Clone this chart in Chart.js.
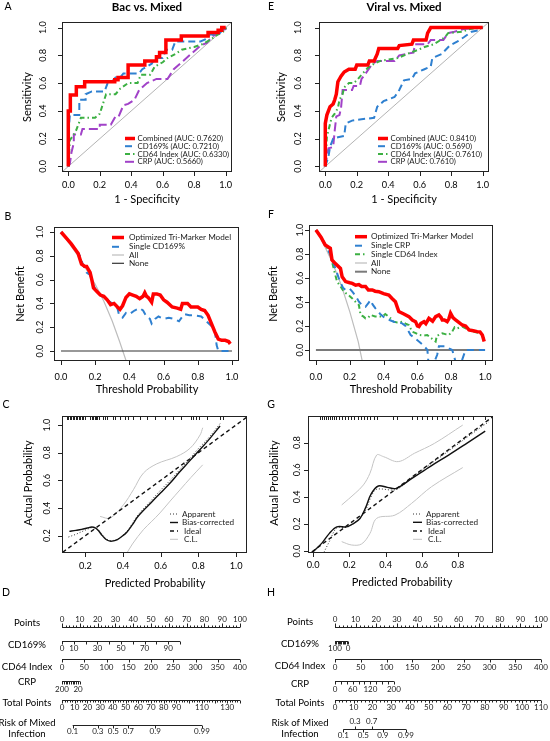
<!DOCTYPE html>
<html>
<head>
<meta charset="utf-8">
<script src="https://cdn.jsdelivr.net/npm/chart.js@4.4.1/dist/chart.umd.min.js"></script>
<style>
html, body { margin:0; padding:0; background:#fff; }
#wrap { position:relative; width:550px; height:741px; overflow:hidden; background:#fff; }
#wrap canvas { position:absolute; left:0; top:0; }
</style>
</head>
<body>
<div id="wrap"></div>
<script>
// ============================================================
//  DATA
// ============================================================
var rocTicks = [0, 0.2, 0.4, 0.6, 0.8, 1.0];
var diagX = [-0.1, 1.1], diagY = [-0.1, 1.1];

// A: ROC, Bac vs. Mixed
var rocA_combX = [0,0,0.013,0.013,0.051,0.051,0.104,0.104,0.295,0.295,0.316,0.316,0.38,0.38,0.486,0.486,0.56,0.56,0.58,0.58,0.62,0.62,0.718,0.718,0.888,0.888,0.952,0.952,0.975,0.975,1];
var rocA_combY = [0,0.40,0.40,0.514,0.514,0.574,0.574,0.61,0.61,0.625,0.625,0.64,0.64,0.73,0.73,0.76,0.76,0.79,0.79,0.82,0.82,0.91,0.91,0.94,0.94,0.965,0.965,0.98,0.98,1,1];
var rocA_cd169X = [0,0.005,0.01,0.07,0.07,0.11,0.11,0.15,0.23,0.25,0.27,0.3,0.33,0.35,0.45,0.47,0.5,0.53,0.55,0.6,0.62,0.66,0.68,0.84,0.88,0.9,0.95,0.97,1];
var rocA_cd169Y = [0,0.3,0.37,0.37,0.48,0.48,0.52,0.54,0.54,0.6,0.6,0.64,0.64,0.67,0.67,0.7,0.72,0.74,0.78,0.78,0.84,0.84,0.9,0.9,0.92,0.95,0.95,0.97,1];
var rocA_cd64X = [0,0.01,0.03,0.05,0.08,0.17,0.2,0.22,0.24,0.3,0.33,0.38,0.44,0.46,0.52,0.55,0.6,0.63,0.68,0.72,0.8,0.85,0.9,0.95,1,1];
var rocA_cd64Y = [0,0.19,0.22,0.26,0.35,0.35,0.38,0.45,0.52,0.52,0.56,0.6,0.6,0.66,0.66,0.72,0.75,0.78,0.81,0.84,0.86,0.88,0.91,0.95,0.98,1];
var rocA_crpX = [0,0.01,0.02,0.035,0.035,0.08,0.09,0.2,0.2,0.27,0.3,0.32,0.35,0.38,0.42,0.45,0.5,0.56,0.63,0.67,0.73,0.77,0.84,0.88,0.92,0.96,1,1];
var rocA_crpY = [0,0.02,0.1,0.17,0.23,0.23,0.27,0.27,0.3,0.3,0.36,0.36,0.44,0.45,0.48,0.55,0.6,0.63,0.63,0.7,0.76,0.8,0.87,0.89,0.94,0.96,0.99,1];
var rocA_labels = ['Combined (AUC: 0.7620)', 'CD169% (AUC: 0.7210)', 'CD64 Index (AUC: 0.6330)', 'CRP (AUC: 0.5660)'];

// E: ROC, Viral vs. Mixed
var rocE_combX = [0,0,0.01,0.03,0.05,0.06,0.07,0.08,0.1,0.12,0.15,0.19,0.2,0.27,0.28,0.31,0.33,0.34,0.46,0.47,0.55,0.56,0.64,0.65,0.67,1];
var rocE_combY = [0,0.31,0.37,0.43,0.45,0.48,0.52,0.61,0.65,0.68,0.70,0.70,0.73,0.73,0.76,0.76,0.81,0.85,0.85,0.87,0.88,0.91,0.91,0.96,1,1];
var rocE_cd169X = [0,0.02,0.03,0.05,0.08,0.12,0.13,0.17,0.23,0.31,0.33,0.37,0.44,0.47,0.5,0.55,0.57,0.63,0.67,0.68,0.74,0.79,0.84,0.88,0.93,0.97,1];
var rocE_cd169Y = [0,0.07,0.14,0.2,0.21,0.22,0.31,0.33,0.34,0.35,0.43,0.47,0.5,0.55,0.62,0.63,0.67,0.7,0.72,0.78,0.81,0.87,0.9,0.93,0.97,0.98,1];
var rocE_cd64X = [0,0.01,0.02,0.04,0.06,0.08,0.09,0.11,0.12,0.15,0.18,0.2,0.23,0.27,0.31,0.35,0.46,0.52,0.59,0.63,0.69,0.76,0.78,0.87,0.92,1];
var rocE_cd64Y = [0,0.21,0.26,0.35,0.38,0.42,0.48,0.52,0.57,0.6,0.6,0.62,0.66,0.71,0.74,0.76,0.78,0.81,0.84,0.86,0.88,0.93,0.96,0.97,0.99,1];
var rocE_crpX = [0,0.01,0.02,0.05,0.06,0.07,0.09,0.1,0.11,0.17,0.18,0.22,0.23,0.25,0.3,0.33,0.44,0.47,0.56,0.57,0.65,0.67,0.75,0.78,0.82,0.88,1];
var rocE_crpY = [0,0.07,0.13,0.14,0.26,0.36,0.37,0.42,0.55,0.55,0.58,0.58,0.63,0.66,0.74,0.76,0.76,0.8,0.82,0.88,0.88,0.91,0.91,0.96,0.97,0.99,1];
var rocE_labels = ['Combined (AUC: 0.8410)', 'CD169% (AUC: 0.5690)', 'CD64 Index (AUC: 0.7610)', 'CRP (AUC: 0.7610)'];

// B: decision curve, Bac vs. Mixed
var dcaB_modelX = [0,0.03,0.06,0.09,0.1,0.12,0.14,0.15,0.17,0.18,0.19,0.21,0.23,0.25,0.27,0.29,0.31,0.33,0.345,0.36,0.38,0.4,0.42,0.44,0.46,0.47,0.48,0.49,0.5,0.51,0.52,0.53,0.54,0.56,0.58,0.6,0.62,0.65,0.68,0.7,0.71,0.74,0.76,0.78,0.8,0.82,0.84,0.86,0.88,0.9,0.92,0.94,0.96,0.98,0.99];
var dcaB_modelY = [1.0,0.95,0.9,0.84,0.82,0.73,0.71,0.71,0.66,0.6,0.53,0.5,0.47,0.46,0.43,0.39,0.4,0.37,0.35,0.38,0.45,0.48,0.47,0.46,0.44,0.45,0.46,0.49,0.46,0.45,0.43,0.41,0.48,0.48,0.47,0.43,0.41,0.37,0.36,0.35,0.4,0.4,0.37,0.37,0.37,0.35,0.34,0.3,0.23,0.16,0.1,0.09,0.09,0.08,0.06];
var dcaB_cd169X = [0,0.03,0.06,0.09,0.11,0.13,0.15,0.17,0.19,0.21,0.24,0.27,0.29,0.31,0.33,0.34,0.36,0.38,0.4,0.43,0.46,0.48,0.5,0.52,0.53,0.55,0.57,0.6,0.63,0.66,0.69,0.72,0.75,0.78,0.82,0.85,0.88,0.9,0.91,0.92,0.95,0.99];
var dcaB_cd169Y = [1,0.95,0.9,0.84,0.8,0.72,0.66,0.64,0.55,0.5,0.46,0.43,0.41,0.39,0.36,0.3,0.28,0.32,0.31,0.34,0.36,0.34,0.29,0.27,0.23,0.27,0.29,0.27,0.28,0.27,0.25,0.31,0.30,0.30,0.29,0.25,0.21,0.17,0.05,0.0,0.0,0.0];
var dcaB_allX = [0,0.1,0.2,0.25,0.3,0.34,0.385];
var dcaB_allY = [1,0.8,0.56,0.42,0.25,0.09,-0.1];
var dcaB_labels = ['Optimized Tri-Marker Model', 'Single CD169%', 'All', 'None'];

// F: decision curve, Viral vs. Mixed
var dcaF_modelX = [0,0.03,0.055,0.085,0.095,0.115,0.145,0.155,0.175,0.2,0.215,0.235,0.254,0.27,0.293,0.31,0.333,0.35,0.372,0.4,0.431,0.45,0.47,0.48,0.49,0.52,0.55,0.57,0.589,0.6,0.609,0.62,0.639,0.65,0.668,0.69,0.708,0.727,0.74,0.747,0.76,0.776,0.786,0.796,0.81,0.826,0.845,0.865,0.885,0.905,0.93,0.954,0.97,0.984,0.995];
var dcaF_modelY = [1,0.94,0.875,0.847,0.75,0.72,0.68,0.61,0.57,0.56,0.555,0.54,0.545,0.53,0.53,0.5,0.5,0.49,0.486,0.47,0.458,0.43,0.403,0.36,0.32,0.3,0.278,0.25,0.236,0.2,0.195,0.22,0.236,0.22,0.264,0.24,0.278,0.292,0.27,0.25,0.25,0.236,0.26,0.306,0.27,0.25,0.23,0.208,0.2,0.167,0.16,0.153,0.15,0.125,0.07];
var dcaF_crpX = [0,0.03,0.06,0.09,0.115,0.14,0.16,0.175,0.2,0.215,0.235,0.254,0.275,0.293,0.31,0.322,0.335,0.352,0.38,0.41,0.435,0.46,0.485,0.51,0.53,0.56,0.585,0.609,0.635,0.659,0.665,0.7,0.717,0.727,0.75,0.767,0.79,0.806,0.826,0.86,0.885,0.92,0.96,1.0];
var dcaF_crpY = [1,0.94,0.87,0.78,0.68,0.58,0.52,0.5,0.51,0.486,0.45,0.403,0.37,0.36,0.39,0.416,0.38,0.347,0.3,0.264,0.25,0.236,0.23,0.222,0.2,0.125,0.1,0.07,0.04,0.0,-0.1,-0.1,-0.04,0.03,0.03,0.03,0.01,0.0,-0.1,-0.1,0.0,0.0,0.0,0.0];
var dcaF_cd64X = [0,0.03,0.06,0.085,0.095,0.11,0.125,0.145,0.165,0.19,0.215,0.235,0.254,0.264,0.28,0.293,0.31,0.322,0.35,0.392,0.41,0.43,0.445,0.46,0.48,0.51,0.53,0.549,0.569,0.59,0.609,0.635,0.658,0.68,0.708,0.715,0.727,0.747,0.77,0.786,0.806,0.82,0.836,0.865,0.885,0.905,0.94,0.97,0.984,0.995];
var dcaF_cd64Y = [1,0.94,0.87,0.8,0.736,0.65,0.57,0.53,0.486,0.46,0.43,0.4,0.375,0.292,0.28,0.264,0.27,0.292,0.28,0.278,0.3,0.278,0.26,0.236,0.23,0.236,0.22,0.208,0.153,0.14,0.125,0.12,0.125,0.1,0.07,0.12,0.125,0.139,0.13,0.125,0.153,0.19,0.18,0.194,0.18,0.167,0.15,0.14,0.125,0.083];
var dcaF_allX = [0,0.05,0.1,0.15,0.2,0.25,0.275];
var dcaF_allY = [1,0.87,0.72,0.54,0.32,0.07,-0.1];
var dcaF_labels = ['Optimized Tri-Marker Model', 'Single CRP', 'Single CD64 Index', 'All', 'None'];
var noneX = [0, 1], noneY = [0, 0];

// C: calibration, Bac vs. Mixed
var calTicksC = [0.2, 0.4, 0.6, 0.8, 1.0];
var calC_bcX = [0.115,0.15,0.18,0.21,0.234,0.255,0.27,0.29,0.31,0.331,0.35,0.37,0.39,0.42,0.45,0.48,0.55,0.6,0.65,0.7,0.75,0.8,0.85,0.915];
var calC_bcY = [0.231,0.238,0.245,0.255,0.263,0.255,0.235,0.2,0.172,0.16,0.162,0.172,0.19,0.225,0.28,0.34,0.44,0.51,0.58,0.66,0.735,0.81,0.885,0.993];
var calC_appX = [0.11,0.15,0.2,0.24,0.27,0.3,0.33,0.37,0.42,0.48,0.55,0.6,0.65,0.7,0.75,0.8,0.85,0.915];
var calC_appY = [0.19,0.21,0.24,0.258,0.24,0.19,0.165,0.175,0.23,0.35,0.455,0.53,0.6,0.675,0.75,0.83,0.9,1.01];
var calC_upX = [0.278,0.331,0.402,0.455,0.508,0.579,0.685,0.756,0.809,0.823];
var calC_upY = [0.339,0.327,0.423,0.532,0.652,0.719,0.772,0.832,0.928,0.98];
var calC_loX = [0.41,0.45,0.508,0.55,0.596,0.65,0.703,0.76,0.823];
var calC_loY = [0.05,0.14,0.243,0.3,0.364,0.45,0.532,0.62,0.712];
var rugC = [0.102,0.110,0.118,0.126,0.134,0.142,0.150,0.158,0.166,0.174,0.182,0.190,0.198,0.225,0.233,0.241,0.249,0.257,0.264,0.272,0.294,0.304,0.315,0.347,0.357,0.384,0.410,0.426,0.453,0.490,0.527,0.569,0.622,0.664,0.708,0.760,0.772,0.788,0.804,0.846,0.915,0.931];

// G: calibration, Viral vs. Mixed
var calTicksG = [0.0, 0.2, 0.4, 0.6, 0.8];
var calG_bcX = [0,0.05,0.09,0.131,0.186,0.22,0.259,0.29,0.32,0.36,0.41,0.46,0.55,0.65,0.75,0.85,0.95];
var calG_bcY = [-0.005,0.06,0.13,0.178,0.178,0.2,0.24,0.32,0.42,0.48,0.47,0.463,0.54,0.627,0.71,0.797,0.885];
var calG_appX = [0.06,0.09,0.131,0.186,0.22,0.259,0.29,0.32,0.35,0.46,0.55,0.65,0.75,0.85,0.97];
var calG_appY = [-0.01,0.07,0.17,0.175,0.2,0.245,0.3,0.4,0.455,0.455,0.55,0.645,0.74,0.84,0.955];
var calG_upX = [0.158,0.232,0.278,0.314,0.351,0.388,0.47,0.56,0.67,0.826];
var calG_upY = [0.34,0.426,0.488,0.574,0.709,0.697,0.66,0.722,0.795,0.93];
var calG_loX = [0.158,0.213,0.268,0.314,0.351,0.452,0.544,0.654,0.826];
var calG_loY = [0.069,0.044,0.052,0.13,0.241,0.265,0.352,0.475,0.616];
var rugG = [0.039,0.050,0.061,0.072,0.083,0.094,0.105,0.116,0.127,0.143,0.160,0.177,0.193,0.21,0.226,0.248,0.265,0.281,0.298,0.314,0.337,0.353,0.441,0.463,0.546,0.574,0.601,0.629,0.657,0.684,0.712,0.739,0.767,0.8,0.828,0.883,0.949];
var idealX = [-0.1, 1.1], idealY = [-0.1, 1.1];
var calLabels = ['Apparent', 'Bias-corrected', ' Ideal', ' C.L.'];

// D / H: nomograms (values on each scale and the points they map to)
var nomPoints = [0,10,20,30,40,50,60,70,80,90,100];
var riskProbs = [0.1,0.3,0.5,0.7,0.9,0.99];
var nomD_cd169Range = [0,100],  nomD_cd169Pts = [0,66.3], nomD_cd169Lab = [0,10,30,50,70,90];
var nomD_cd64Range  = [0,400],  nomD_cd64Pts  = [0,100],  nomD_cd64Lab  = [0,50,100,150,200,250,300,350,400];
var nomD_crpRange   = [200,0],  nomD_crpPts   = [0,10],   nomD_crpLab   = [200,20];
var nomD_totalRange = [0,140],  nomD_totalPts = [0,100],  nomD_totalLab = [0,10,20,30,40,50,60,70,80,90,110,130];
var nomD_riskTotal  = [8.4,28.1,40.4,52.2,73.3,110.1];
var nomH_cd169Range = [100,0],  nomH_cd169Pts = [0,6.3],  nomH_cd169Lab = [100,0];
var nomH_cd64Range  = [0,400],  nomH_cd64Pts  = [0,100],  nomH_cd64Lab  = [0,50,100,150,200,250,300,350,400];
var nomH_crpRange   = [0,200],  nomH_crpPts   = [0,28.6], nomH_crpLab   = [0,60,120,200];
var nomH_totalRange = [0,110],  nomH_totalPts = [0,100],  nomH_totalLab = [0,10,20,30,40,50,60,70,80,90,100,110];
var nomH_riskTotal  = [4.43,10.7,15.1,19.6,25.5,37.9];
var nomH_riskAbove  = [false,true,false,true,false,false];

// ============================================================
//  HELPERS
// ============================================================
var W = 550, H = 741;
var FONT = 'Lato, "Open Sans", sans-serif';
var RED = '#ff0000', BLUE = '#2f80d0', GREEN = '#3cb043', PURPLE = '#a142c8';
var wrap = document.getElementById('wrap');

function pts(xs, ys) { return xs.map(function(x, i) { return { x: x, y: ys[i] }; }); }
function lin(v, vr, pr) { return pr[0] + (v - vr[0]) * (pr[1] - pr[0]) / (vr[1] - vr[0]); }

function ds(label, xs, ys, color, width, dash, leg, smooth) {
  return { label: label, data: pts(xs, ys), showLine: true, borderColor: color, borderWidth: width,
    borderDash: dash || [], pointRadius: 0, fill: false, clip: 0, leg: leg,
    tension: smooth ? 0.35 : 0, borderJoinStyle: 'miter' };
}

function txt(ctx, s, x, y, size, opt) {
  opt = opt || {};
  ctx.save();
  ctx.font = (opt.bold ? 'bold ' : '') + size + 'px ' + FONT;
  ctx.fillStyle = opt.color || '#000';
  ctx.textAlign = opt.align || 'center';
  ctx.textBaseline = 'middle';
  ctx.translate(x, y);
  if (opt.rot) ctx.rotate(-Math.PI / 2);
  ctx.fillText(s, 0, 0);
  ctx.restore();
}

function frame(c) {
  var a = c.chartArea, ctx = c.ctx;
  ctx.save(); ctx.strokeStyle = '#222'; ctx.lineWidth = 1;
  ctx.strokeRect(a.left + 0.5, a.top + 0.5, a.right - a.left - 1, a.bottom - a.top - 1);
  ctx.restore();
}

function axes(c, xt, yt, xLabY, yLabX) {
  var ctx = c.ctx, a = c.chartArea, sx = c.scales.x, sy = c.scales.y;
  ctx.save(); ctx.strokeStyle = '#222'; ctx.lineWidth = 1; ctx.beginPath();
  xt.forEach(function(v) { var p = Math.round(sx.getPixelForValue(v)) + 0.5; ctx.moveTo(p, a.bottom); ctx.lineTo(p, a.bottom + 4); });
  yt.forEach(function(v) { var p = Math.round(sy.getPixelForValue(v)) + 0.5; ctx.moveTo(a.left, p); ctx.lineTo(a.left - 4, p); });
  ctx.stroke(); ctx.restore();
  xt.forEach(function(v) { txt(ctx, v.toFixed(1), sx.getPixelForValue(v), xLabY, 9.2); });
  yt.forEach(function(v) { txt(ctx, v.toFixed(1), yLabX, sy.getPixelForValue(v), 9.2, { rot: true }); });
}

function legend(c, x1, x2, tx, ys, size) {
  var ctx = c.ctx;
  var items = c.data.datasets.filter(function(d) { return d.leg !== undefined; })
    .sort(function(p, q) { return p.leg - q.leg; });
  items.forEach(function(d, i) {
    ctx.save(); ctx.strokeStyle = d.borderColor; ctx.lineWidth = d.borderWidth; ctx.setLineDash(d.borderDash || []);
    ctx.beginPath(); ctx.moveTo(x1, ys[i]); ctx.lineTo(x2, ys[i]); ctx.stroke(); ctx.restore();
    txt(ctx, d.label, tx, ys[i], size, { align: 'left', color: '#222' });
  });
}

function rug(c, vals) {
  var ctx = c.ctx, a = c.chartArea, sx = c.scales.x;
  ctx.save(); ctx.strokeStyle = '#222'; ctx.lineWidth = 1; ctx.beginPath();
  vals.forEach(function(v) { var p = Math.round(sx.getPixelForValue(v)) + 0.5; ctx.moveTo(p, a.top); ctx.lineTo(p, a.top + 4); });
  ctx.stroke(); ctx.restore();
}

function panel(box, xr, yr, datasets, deco) {
  var cv = document.createElement('canvas');
  cv.width = W; cv.height = H; cv.style.width = W + 'px'; cv.style.height = H + 'px';
  wrap.appendChild(cv);
  return new Chart(cv, {
    type: 'scatter',
    data: { datasets: datasets },
    options: {
      responsive: false, animation: false, events: [], devicePixelRatio: 1,
      layout: { padding: { left: box[0], top: box[1], right: W - box[2], bottom: H - box[3] } },
      plugins: { legend: { display: false }, tooltip: { enabled: false } },
      scales: {
        x: { type: 'linear', display: false, min: xr[0], max: xr[1] },
        y: { type: 'linear', display: false, min: yr[0], max: yr[1] }
      }
    },
    plugins: [{ id: 'deco', afterDraw: function(c) { deco(c); } }]
  });
}

// ============================================================
//  ROC PANELS
// ============================================================
function rocSets(d, labels) {
  return [
    ds(labels[0], d[0], d[1], RED, 3.5, [], 0),
    ds(labels[1], d[2], d[3], BLUE, 2, [7, 4], 1),
    ds(labels[2], d[4], d[5], GREEN, 2, [5, 3, 1.5, 3], 2),
    ds(labels[3], d[6], d[7], PURPLE, 2, [9, 4], 3),
    ds(null, diagX, diagY, '#a0a0a0', 0.8, [])
  ];
}

panel([62, 22, 232, 172], [-0.04, 1.04], [-0.04, 1.04],
  rocSets([rocA_combX, rocA_combY, rocA_cd169X, rocA_cd169Y, rocA_cd64X, rocA_cd64Y, rocA_crpX, rocA_crpY], rocA_labels),
  function(c) {
    frame(c); axes(c, rocTicks, rocTicks, 185, 43);
    txt(c.ctx, 'A', 8, 7, 10.5);
    txt(c.ctx, 'Bac vs. Mixed', 147, 7, 11.5, { bold: true });
    txt(c.ctx, '1 - Specificity', 147, 199, 11);
    txt(c.ctx, 'Sensitivity', 27, 97, 11, { rot: true });
    legend(c, 125, 135, 137.5, [138.5, 146.2, 154, 161.8], 7.8);
  });

panel([319, 22, 489, 172], [-0.04, 1.04], [-0.04, 1.04],
  rocSets([rocE_combX, rocE_combY, rocE_cd169X, rocE_cd169Y, rocE_cd64X, rocE_cd64Y, rocE_crpX, rocE_crpY], rocE_labels),
  function(c) {
    frame(c); axes(c, rocTicks, rocTicks, 185, 298);
    txt(c.ctx, 'E', 271, 7, 10.5);
    txt(c.ctx, 'Viral vs. Mixed', 404, 7, 11.5, { bold: true });
    txt(c.ctx, '1 - Specificity', 404, 199, 11);
    txt(c.ctx, 'Sensitivity', 281, 97, 11, { rot: true });
    legend(c, 378, 388, 390.5, [138.5, 146.2, 154, 161.8], 7.8);
  });

// ============================================================
//  DECISION CURVES
// ============================================================
panel([54, 227, 239, 361], [-0.041, 1.041], [-0.084, 1.042], [
    ds(dcaB_labels[0], dcaB_modelX, dcaB_modelY, RED, 3.5, [], 0),
    ds(dcaB_labels[1], dcaB_cd169X, dcaB_cd169Y, BLUE, 2, [7, 5], 1),
    ds(dcaB_labels[3], noneX, noneY, '#333', 1.2, [], 3),
    ds(dcaB_labels[2], dcaB_allX, dcaB_allY, '#bdbdbd', 1.2, [], 2)
  ],
  function(c) {
    frame(c); axes(c, rocTicks, rocTicks, 377, 40);
    txt(c.ctx, 'B', 8, 217, 10.5);
    txt(c.ctx, 'Threshold Probability', 147, 389, 11);
    txt(c.ctx, 'Net Benefit', 20, 294, 11, { rot: true });
    legend(c, 112, 124, 129, [237.5, 246.8, 255, 263.3], 8.2);
  });

panel([309, 225, 493, 361], [-0.041, 1.047], [-0.092, 1.042], [
    ds(dcaF_labels[0], dcaF_modelX, dcaF_modelY, RED, 3.5, [], 0),
    ds(dcaF_labels[1], dcaF_crpX, dcaF_crpY, BLUE, 2, [7, 5], 1),
    ds(dcaF_labels[2], dcaF_cd64X, dcaF_cd64Y, GREEN, 2, [5, 3, 1.5, 3], 2),
    ds(dcaF_labels[4], noneX, noneY, '#7a7a7a', 2, [], 4),
    ds(dcaF_labels[3], dcaF_allX, dcaF_allY, '#bdbdbd', 1.2, [], 3)
  ],
  function(c) {
    frame(c); axes(c, rocTicks, rocTicks, 377, 300);
    txt(c.ctx, 'F', 271, 215, 10.5);
    txt(c.ctx, 'Threshold Probability', 401, 389, 11);
    txt(c.ctx, 'Net Benefit', 273, 294, 11, { rot: true });
    legend(c, 355, 367, 371, [236.7, 245.7, 254.3, 263, 271.7], 8.2);
  });

// ============================================================
//  CALIBRATION
// ============================================================
function calSets(bcX, bcY, apX, apY, upX, upY, loX, loY) {
  return [
    ds(calLabels[1], bcX, bcY, '#111', 1.4, [], 1, true),
    ds(calLabels[0], apX, apY, '#333', 1, [1, 2], 0, true),
    ds(calLabels[2], idealX, idealY, '#111', 1.4, [4, 3], 2),
    ds(calLabels[3], upX, upY, '#c4c4c4', 1, [], 3, true),
    ds(null, loX, loY, '#c4c4c4', 1, [], undefined, true)
  ];
}

panel([62, 416, 247, 553], [0.076, 1.058], [0.0745, 1.065],
  calSets(calC_bcX, calC_bcY, calC_appX, calC_appY, calC_upX, calC_upY, calC_loX, calC_loY),
  function(c) {
    frame(c); axes(c, calTicksC, calTicksC, 566, 47); rug(c, rugC);
    txt(c.ctx, 'C', 6, 405, 10.5);
    txt(c.ctx, 'Predicted Probability', 155, 583, 11);
    txt(c.ctx, 'Actual Probability', 28, 483, 11, { rot: true });
    legend(c, 170, 178, 182, [514, 522.5, 531, 539.3], 8.2);
  });

panel([308, 416, 493, 553], [-0.028, 0.993], [-0.015, 0.997],
  calSets(calG_bcX, calG_bcY, calG_appX, calG_appY, calG_upX, calG_upY, calG_loX, calG_loY),
  function(c) {
    frame(c); axes(c, calTicksG, calTicksG, 565, 297); rug(c, rugG);
    txt(c.ctx, 'G', 271, 405, 10.5);
    txt(c.ctx, 'Predicted Probability', 402, 582, 11);
    txt(c.ctx, 'Actual Probability', 274, 483, 11, { rot: true });
    legend(c, 413, 422, 426, [514, 522.3, 531, 539.3], 8.2);
  });

// ============================================================
//  NOMOGRAMS
// ============================================================
function axisRow(c, y, ticks, labels) {
  var ctx = c.ctx, sx = c.scales.x;
  var px = ticks.map(function(t) { return sx.getPixelForValue(t.p); });
  var lo = Math.min.apply(null, px), hi = Math.max.apply(null, px);
  ctx.save(); ctx.strokeStyle = '#222'; ctx.lineWidth = 1; ctx.beginPath();
  ctx.moveTo(lo, y + 0.5); ctx.lineTo(hi, y + 0.5);
  ticks.forEach(function(t, i) { var p = Math.round(px[i]) + 0.5; ctx.moveTo(p, y + 0.5); ctx.lineTo(p, y + 0.5 + t.len); });
  ctx.stroke(); ctx.restore();
  labels.forEach(function(l) { txt(ctx, l.t, sx.getPixelForValue(l.p), l.y, 8, { color: '#222' }); });
}

function stepTicks(range, pr, step, len, majorEvery, minorLen) {
  var out = [], lo = Math.min(range[0], range[1]), hi = Math.max(range[0], range[1]);
  for (var v = lo; v <= hi + 1e-9; v += step) {
    var major = !majorEvery || Math.abs(v / majorEvery - Math.round(v / majorEvery)) < 1e-6;
    out.push({ p: lin(v, range, pr), len: major ? len : minorLen });
  }
  return out;
}
function labs(vals, range, pr, y) {
  return vals.map(function(v) { return { p: lin(v, range, pr), t: String(v), y: y }; });
}

function nomogram(c, cfg) {
  var ctx = c.ctx;
  cfg.names.forEach(function(n) { txt(ctx, n[0], cfg.nameX, n[1], 9.6); });
  axisRow(c, 627, stepTicks([0, 100], [0, 100], 2, -4, 10, -2), labs(nomPoints, [0, 100], [0, 100], 619));
  axisRow(c, 641, stepTicks(cfg.cd169[0], cfg.cd169[1], 10, 3), labs(cfg.cd169[2], cfg.cd169[0], cfg.cd169[1], 648.5));
  axisRow(c, 659, stepTicks(cfg.cd64[0], cfg.cd64[1], 50, 3), labs(cfg.cd64[2], cfg.cd64[0], cfg.cd64[1], 667));
  axisRow(c, 681, stepTicks(cfg.crp[0], cfg.crp[1], 20, 3), labs(cfg.crp[2], cfg.crp[0], cfg.crp[1], 689));
  axisRow(c, 700, stepTicks(cfg.total[0], cfg.total[1], 2, 3, 10, 2), labs(cfg.total[2], cfg.total[0], cfg.total[1], 707));
  var riskTicks = [], riskLabs = [];
  riskProbs.forEach(function(pr, i) {
    var p = lin(cfg.riskTotal[i], cfg.total[0], cfg.total[1]);
    var up = cfg.riskAbove && cfg.riskAbove[i];
    riskTicks.push({ p: p, len: up ? -3 : 3 });
    riskLabs.push({ p: p, t: String(pr), y: up ? cfg.riskY - 8 : cfg.riskY + 6.5 });
  });
  axisRow(c, cfg.riskY, riskTicks, riskLabs);
}

panel([62, 600, 240, 740], [0, 100], [0, 1], [], function(c) {
  txt(c.ctx, 'D', 6, 593, 10.5);
  nomogram(c, {
    nameX: 27,
    names: [['Points', 623], ['CD169%', 645], ['CD64 Index', 667], ['CRP', 682], ['Total Points', 703], ['Risk of Mixed', 723], ['Infection', 734]],
    cd169: [nomD_cd169Range, nomD_cd169Pts, nomD_cd169Lab],
    cd64: [nomD_cd64Range, nomD_cd64Pts, nomD_cd64Lab],
    crp: [nomD_crpRange, nomD_crpPts, nomD_crpLab],
    total: [nomD_totalRange, nomD_totalPts, nomD_totalLab],
    riskTotal: nomD_riskTotal, riskY: 725
  });
});

panel([335, 600, 541, 740], [0, 100], [0, 1], [], function(c) {
  txt(c.ctx, 'H', 271, 593, 10.5);
  nomogram(c, {
    nameX: 300,
    names: [['Points', 622], ['CD169%', 644], ['CD64 Index', 666], ['CRP', 684], ['Total Points', 703], ['Risk of Mixed', 723], ['Infection', 734]],
    cd169: [nomH_cd169Range, nomH_cd169Pts, nomH_cd169Lab],
    cd64: [nomH_cd64Range, nomH_cd64Pts, nomH_cd64Lab],
    crp: [nomH_crpRange, nomH_crpPts, nomH_crpLab],
    total: [nomH_totalRange, nomH_totalPts, nomH_totalLab],
    riskTotal: nomH_riskTotal, riskAbove: nomH_riskAbove, riskY: 729
  });
});
</script>
</body>
</html>
